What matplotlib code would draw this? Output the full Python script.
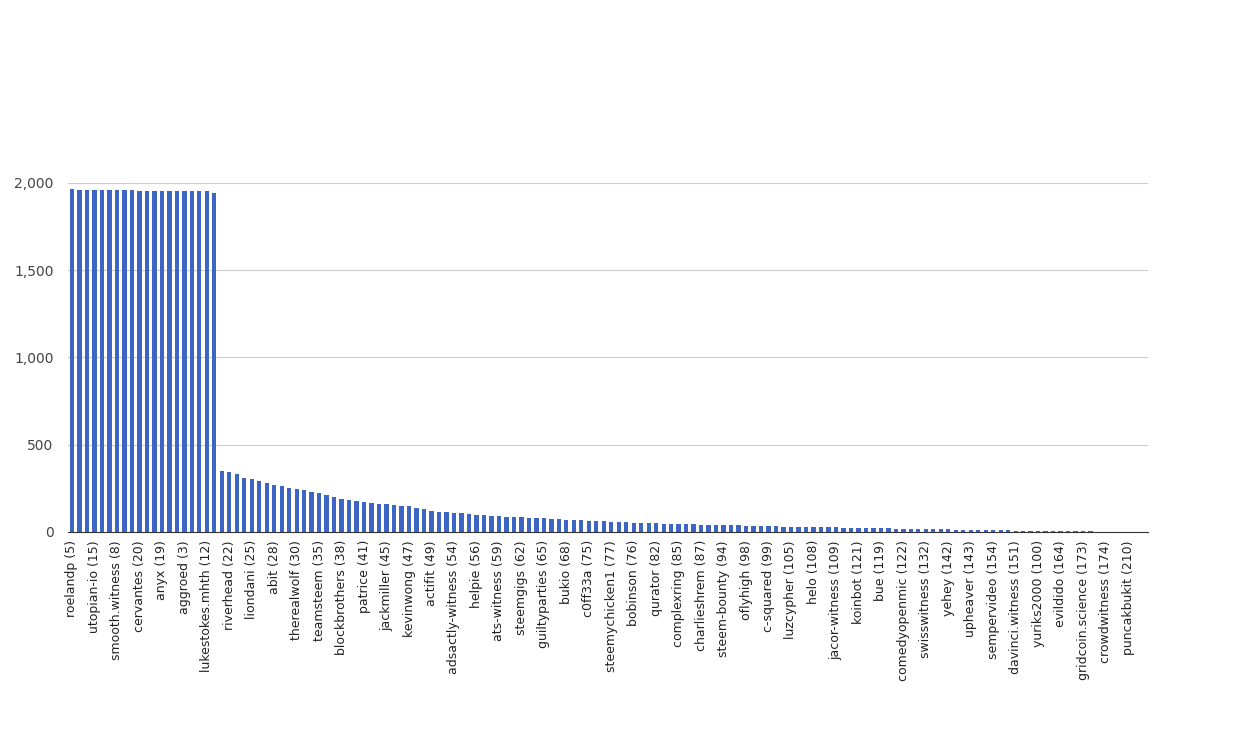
import matplotlib.pyplot as plt
import numpy as np

# labelled witnesses (every third bar carries a tick label)
labels = [
    "roelandp (5)", "utopian-io (15)", "smooth.witness (8)", "cervantes (20)",
    "anyx (19)", "aggroed (3)", "lukestokes.mhth (12)", "riverhead (22)",
    "liondani (25)", "abit (28)", "therealwolf (30)", "teamsteem (35)",
    "blockbrothers (38)", "patrice (41)", "jackmiller (45)", "kevinwong (47)",
    "actifit (49)", "adsactly-witness (54)", "helpie (56)", "ats-witness (59)",
    "steemgigs (62)", "guiltyparties (65)", "bukio (68)", "c0ff33a (75)",
    "steemychicken1 (77)", "bobinson (76)", "qurator (82)", "complexring (85)",
    "charlieshrem (87)", "steem-bounty (94)", "oflyhigh (98)", "c-squared (99)",
    "luzcypher (105)", "helo (108)", "jacor-witness (109)", "koinbot (121)",
    "bue (119)", "comedyopenmic (122)", "swisswitness (132)", "yehey (142)",
    "upheaver (143)", "sempervideo (154)", "davinci.witness (151)",
    "yuriks2000 (100)", "evildido (164)", "gridcoin.science (173)",
    "crowdwitness (174)", "puncakbukit (210)",
]

values = [
    1965, 1960, 1960, 1960, 1960, 1960, 1960, 1960, 1960, 1955,
    1955, 1955, 1955, 1955, 1955, 1955, 1955, 1955, 1955, 1945,
    350, 340, 330, 310, 300, 290, 280, 270, 262, 252,
    248, 240, 230, 222, 210, 200, 190, 180, 175, 170,
    165, 162, 158, 155, 150, 145, 138, 128, 118, 114,
    112, 110, 105, 100, 98, 95, 90, 88, 86, 84,
    82, 80, 78, 76, 74, 72, 70, 68, 66, 64,
    62, 60, 58, 56, 54, 52, 50, 49, 48, 46,
    45, 44, 43, 42, 41, 40, 39, 38, 37, 36,
    35, 34, 33, 32, 31, 30, 30, 29, 28, 27,
    26, 25, 25, 24, 23, 22, 22, 21, 20, 19,
    18, 18, 17, 16, 15, 15, 14, 13, 12, 12,
    11, 10, 10, 9, 8, 8, 7, 6, 6, 5,
    4, 4, 3, 3, 2, 2, 2, 1, 1, 1,
    1, 0.5, 0.5, 0.5,
]

fig = plt.figure(figsize=(12.5, 7.5), dpi=100)
ax = fig.add_axes([0.054, 0.291, 0.864, 0.465])

x = np.arange(len(values))
ax.bar(x, values, width=0.58, color="#3d66c4", zorder=2)

ax.set_xlim(-0.6, len(values) - 0.4)
ax.set_ylim(0, 2000)
ax.set_yticks([0, 500, 1000, 1500, 2000])
ax.set_yticklabels(["0", "500", "1,000", "1,500", "2,000"])
ax.yaxis.grid(True, color="#cccccc", linewidth=0.8, zorder=0)

tick_pos = x[::3]
ax.set_xticks(tick_pos)
ax.set_xticklabels(labels, rotation=90)
ax.tick_params(axis="x", length=0, colors="#222222", labelsize=9, pad=6)
ax.tick_params(axis="y", length=0, colors="#444444", labelsize=10, pad=10)

for side in ["top", "right", "left"]:
    ax.spines[side].set_visible(False)
ax.spines["bottom"].set_color("#333333")
ax.spines["bottom"].set_zorder(3)

fig.savefig("out.png", dpi=100)
